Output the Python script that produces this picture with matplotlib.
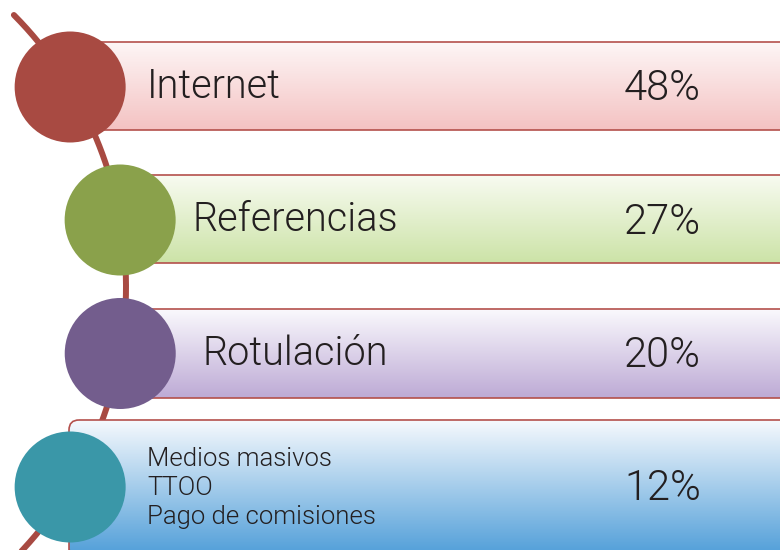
import numpy as np
import matplotlib
matplotlib.use("Agg")
import matplotlib.pyplot as plt
from matplotlib.patches import Circle, FancyBboxPatch
from matplotlib.colors import to_rgb
from matplotlib import font_manager as fm

# ---- data ----
categories = ["Internet", "Referencias", "Rotulación",
              "Medios masivos\nTTOO\nPago de comisiones"]
values = [48, 27, 20, 12]

# ---- styles / layout ----
circle_colors = ["#a84a42", "#8aa14b", "#735d8d", "#3a97a8"]
grad_top = ["#fdf6f6", "#f8fbf1", "#faf9fd", "#f6f9fd"]
grad_bot = ["#f4c2c2", "#cce3a7", "#bdaad5", "#57a2da"]
bar_tops = [42, 175, 309, 420]
bar_bots = [130, 263, 398, 560]
circle_y = [87, 220, 353.5, 487]
label_x = [147, 192, 202, 147]
label_size = [28.5, 28.5, 28.5, 18.5]
label_dy = [0, 0, 0, 1]
pct_size = 30
border_color = "#b4504c"
line_color = "#a84a42"
text_color = "#231f20"
arc_cx, arc_cy, arc_r = -260, 287, 386
radius = 55.5

# pick a light sans if available
light = None
for fam in ["Roboto", "Lato", "Open Sans", "Inter", "Noto Sans"]:
    for f in fm.fontManager.ttflist:
        if f.name == fam and isinstance(f.weight, int) and f.weight <= 300 and f.style == 'normal':
            light = f.fname
            break
    if light:
        break

fig = plt.figure(figsize=(7.8, 5.5), dpi=100)
ax = fig.add_axes([0, 0, 1, 1])

def arc_x(y):
    return arc_cx + np.sqrt(arc_r**2 - (y - arc_cy)**2)

def fprop(size):
    if light:
        return fm.FontProperties(fname=light, size=size)
    return fm.FontProperties(family=['Liberation Sans', 'DejaVu Sans'], size=size)

# connector arc
ys = np.linspace(15, 560, 400)
ax.plot(arc_x(ys), ys, color=line_color, lw=4.3, solid_capstyle='round', zorder=1)

for i, (cat, val) in enumerate(zip(categories, values)):
    cx = arc_x(circle_y[i])
    top, bot = bar_tops[i], bar_bots[i]
    left = cx if i < 3 else 69
    right = 795
    patch = FancyBboxPatch((left, top), right - left, bot - top,
                           boxstyle="round,pad=0,rounding_size=10",
                           facecolor='none', edgecolor=border_color,
                           lw=1.2, zorder=3)
    ax.add_patch(patch)
    gb = min(bot, 550)
    t = np.linspace(0, 1, 256)[:, None]
    c0 = np.array(to_rgb(grad_top[i])); c1 = np.array(to_rgb(grad_bot[i]))
    img = (c0[None, None, :] * (1 - t[..., None]) + c1[None, None, :] * t[..., None])
    img = np.repeat(img, 2, axis=1)
    im = ax.imshow(img, extent=(left, right, gb, top), aspect='auto',
                   zorder=2, interpolation='bilinear')
    im.set_clip_path(patch)

    ax.add_patch(Circle((cx, circle_y[i]), radius, color=circle_colors[i], zorder=4, lw=0))

    ax.text(label_x[i], circle_y[i] + label_dy[i], cat, fontproperties=fprop(label_size[i]),
            color=text_color, ha='left', va='center', linespacing=1.24, zorder=5)
    ax.text(701, circle_y[i] + 2, f"{val}%", fontproperties=fprop(pct_size), color=text_color,
            ha='right', va='center', zorder=5)

ax.set_xlim(0, 780)
ax.set_ylim(550, 0)
ax.axis('off')
fig.savefig("out.png", dpi=100)
